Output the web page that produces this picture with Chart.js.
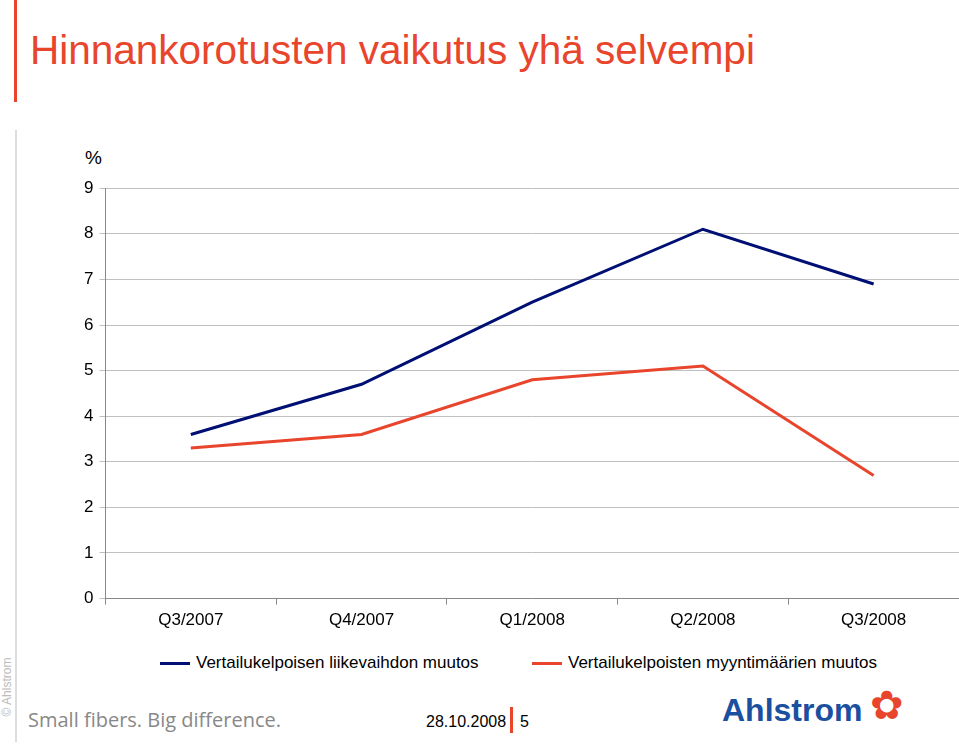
<!DOCTYPE html>
<html><head><meta charset="utf-8">
<script src="https://cdn.jsdelivr.net/npm/chart.js@4"></script>
<style>
body{margin:0;width:959px;height:746px;background:#fff;font-family:"Liberation Sans",Arial,sans-serif;position:relative;overflow:hidden}
.abs{position:absolute}
</style></head><body>
<div class="abs" style="left:14px;top:0;width:3px;height:102px;background:#e8452c"></div>
<div class="abs" style="left:15px;top:130px;width:2px;height:612px;background:#ddd"></div>
<div class="abs" style="left:30px;top:27px;font-size:40.5px;color:#e8452c">Hinnankorotusten vaikutus yhä selvempi</div>
<div class="abs" style="left:85px;top:147px;font-size:19px">%</div>
<div class="abs" style="left:-22px;top:680px;font-size:12px;color:#bbb;transform:rotate(-90deg)">© Ahlstrom</div>
<div class="abs" style="left:160px;top:653px;font-size:17px"><span style="display:inline-block;width:30px;height:3px;background:#000f73;vertical-align:middle;margin-right:6px"></span>Vertailukelpoisen liikevaihdon muutos</div>
<div class="abs" style="left:532px;top:653px;font-size:17px"><span style="display:inline-block;width:30px;height:3px;background:#e8452c;vertical-align:middle;margin-right:6px"></span>Vertailukelpoisten myyntimäärien muutos</div>
<div class="abs" style="left:28px;top:706px;font-size:20px;color:#888;font-family:'Open Sans'">Small fibers. Big difference.</div>
<div class="abs" style="left:426px;top:713px;font-size:16px">28.10.2008</div>
<div class="abs" style="left:510px;top:707px;width:3px;height:26px;background:#e8452c"></div>
<div class="abs" style="left:520px;top:713px;font-size:16px">5</div>
<div class="abs" style="left:722px;top:692px;font-size:32px;font-weight:bold;color:#1b4fa0">Ahlstrom</div>
<div class="abs" style="left:870px;top:682px;font-size:40px;color:#e8452c">✿</div>
<div class="abs" style="left:78px;top:172px;width:881px;height:465px"><canvas id="c"></canvas></div>
<script>
const categories = ['Q3/2007','Q4/2007','Q1/2008','Q2/2008','Q3/2008'];
const liikevaihto = [3.6, 4.7, 6.5, 8.1, 6.9];
const myyntimaarat = [3.3, 3.6, 4.8, 5.1, 2.7];
const yTicks = [0,1,2,3,4,5,6,7,8,9];

new Chart(document.getElementById('c'), {
  type: 'line',
  data: {
    labels: categories,
    datasets: [
      {label:'Vertailukelpoisen liikevaihdon muutos', data: liikevaihto, borderColor:'#000f73', borderWidth:3, pointRadius:0, tension:0},
      {label:'Vertailukelpoisten myyntimäärien muutos', data: myyntimaarat, borderColor:'#e8452c', borderWidth:3, pointRadius:0, tension:0}
    ]
  },
  options: {
    responsive:true, maintainAspectRatio:false, animation:false,
    layout:{padding:{top:4,right:0,bottom:0,left:0}},
    plugins:{legend:{display:false}, tooltip:{enabled:false}},
    scales:{
      x:{offset:true, grid:{offset:true, display:true, drawOnChartArea:false, color:'#888', tickLength:6},
         border:{color:'#888'},
         ticks:{color:'#000', font:{size:17, family:'Liberation Sans'}, padding:6}},
      y:{min:0, max:9, afterBuildTicks: ax => { ax.ticks = yTicks.map(v => ({value:v})); },
         grid:{color:'#c0c0c0', tickLength:6}, border:{color:'#888'},
         ticks:{color:'#000', font:{size:17, family:'Liberation Sans'}, padding:6}}
    }
  }
});
</script>
</body></html>
